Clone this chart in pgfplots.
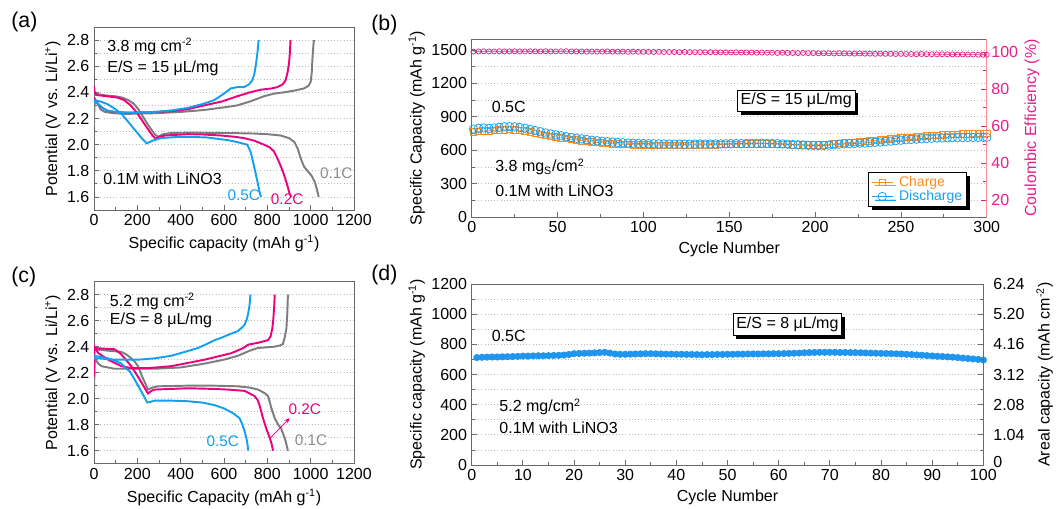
\documentclass[border=0pt]{standalone}
\usepackage{fontspec}
\setmainfont{Liberation Sans}
\usepackage{pgfplots}
\usepackage{pgfplotstable}
\pgfplotsset{compat=1.18}
\usetikzlibrary{shadows,arrows.meta}

\definecolor{cGray}{RGB}{125,125,125}
\definecolor{cGrayT}{RGB}{140,140,140}
\definecolor{cMag}{RGB}{236,0,127}
\definecolor{cBlue}{RGB}{20,160,240}
\definecolor{cBlueD}{RGB}{30,150,240}
\definecolor{cOrange}{RGB}{255,140,30}
\definecolor{cPink}{RGB}{228,30,140}
\definecolor{cPinkL}{RGB}{255,140,150}
\definecolor{cFrame}{RGB}{105,105,105}
\definecolor{cGrid}{RGB}{185,185,185}

\pgfplotstableread{
cyc dis chg ce
1 790 765 100.2
4 797 770 100.3
7 800 774 100.4
10 796 775 100.3
13 800 778 100.3
16 806 782 100.4
19 811 785 100.3
22 812 786 100.3
25 810 784 100.4
28 804 779 100.3
31 798 773 100.3
34 788 764 100.4
37 777 754 100.3
40 766 744 100.3
43 755 735 100.4
46 746 727 100.3
49 738 720 100.3
52 730 712 100.4
55 722 705 100.4
58 715 698 100.3
61 708 692 100.3
64 702 686 100.3
67 696 680 100.2
70 690 675 100.3
73 685 670 100.2
76 681 666 100.2
79 677 662 100.3
82 673 659 100.2
85 670 656 100.2
88 667 654 100.2
91 665 652 100.1
94 663 650 100.2
97 661 649 100.1
100 660 648 100.1
103 659 647 100.1
106 658 646 100.0
109 657 646 100.1
112 656 645 100.0
115 656 645 100.0
118 655 645 100.0
121 655 645 99.9
124 654 646 100.0
127 655 646 99.9
130 655 647 99.9
133 656 648 99.9
136 655 648 99.8
139 656 649 99.9
142 657 650 99.8
145 657 651 99.8
148 658 652 99.8
151 659 653 99.7
154 660 654 99.8
157 660 655 99.7
160 661 656 99.7
163 662 657 99.7
166 662 658 99.6
169 663 658 99.7
172 661 657 99.6
175 660 656 99.6
178 659 655 99.5
181 657 654 99.6
184 654 652 99.5
187 651 650 99.5
190 649 649 99.4
193 647 648 99.5
196 645 647 99.4
199 643 647 99.4
202 642 648 99.3
205 643 650 99.3
208 646 654 99.3
211 650 658 99.2
214 654 662 99.3
217 657 666 99.2
220 659 669 99.2
223 661 673 99.1
226 663 677 99.2
229 665 681 99.1
232 668 685 99.1
235 671 689 99.0
238 674 694 99.1
241 678 698 99.0
244 682 702 99.0
247 686 706 98.9
250 690 710 99.0
253 694 714 98.9
256 697 718 98.9
259 700 722 98.8
262 703 726 98.9
265 706 730 98.8
268 708 733 98.8
271 710 736 98.7
274 711 739 98.8
277 712 741 98.7
280 713 743 98.7
283 714 745 98.6
286 714 747 98.7
289 715 749 98.6
292 715 750 98.6
295 716 752 98.5
298 716 753 98.5
300 716 754 98.5
}\tabB

\pgfplotstableread{
cyc cap
1 712
2 714
3 715
4 716
5 716
6 717
7 718
8 719
9 720
10 722
11 722
12 723
13 724
14 724
15 725
16 726
17 727
18 729
19 733
20 738
21 740
22 741
23 742
24 743
25 745
26 747
27 742
28 736
29 734
30 734
31 735
32 736
33 737
34 738
35 738
36 737
37 736
38 735
39 735
40 734
41 734
42 733
43 733
44 732
45 731
46 732
47 732
48 733
49 733
50 734
51 734
52 735
53 735
54 736
55 736
56 736
57 737
58 737
59 738
60 738
61 739
62 740
63 741
64 742
65 744
66 745
67 746
68 747
69 747
70 747
71 747
72 746
73 746
74 745
75 745
76 744
77 743
78 742
79 741
80 740
81 739
82 738
83 737
84 736
85 734
86 732
87 730
88 728
89 725
90 723
91 721
92 719
93 717
94 715
95 712
96 709
97 706
98 703
99 700
100 696
}\tabD

\pgfplotsset{
  base/.style={
    scale only axis, anchor=south west,
    axis line style={cFrame, line width=0.7pt},
    tick style={cFrame, line width=0.6pt},
    major tick length=4pt, minor tick length=2.5pt,
    tick align=inside, xtick pos=bottom, ytick pos=left,
    /pgf/number format/assume math mode=true,
    /pgf/number format/1000 sep={},
    tick label style={font=\fontsize{12}{13}\selectfont, text=black},
    label style={font=\fontsize{12}{14}\selectfont},
    major grid style={cGrid, dotted, line width=0.6pt},
    minor grid style={cGrid, dotted, line width=0.6pt},
  },
  volt/.style={
    base, width=195pt, xmin=0, xmax=1200, ymin=1.5, ymax=2.9,
    xtick={0,200,400,600,800,1000,1200}, minor x tick num=1,
    ytick={1.6,1.8,2.0,2.2,2.4,2.6,2.8}, minor y tick num=1,
    ymajorgrids, yminorgrids,
    yticklabel style={/pgf/number format/.cd, fixed, fixed zerofill, precision=1},
    ylabel={Potential (V vs. Li/Li\textsuperscript{+})},
    ylabel style={yshift=-2pt},
  },
  cv/.style={line width=1.45pt, no marks, #1},
}

\begin{document}
\begin{tikzpicture}
\useasboundingbox (0,0) rectangle (792pt,381.75pt);

% ---------------- (a)
\begin{axis}[volt, at={(70.5pt,224.25pt)}, height=137.25pt,
  xlabel={Specific capacity (mAh g\textsuperscript{-1})}]
\addplot[cv=cGray] coordinates {(0,2.40) (20,2.385) (60,2.375) (100,2.37) (130,2.36) (160,2.34) (185,2.31) (205,2.27) (220,2.23) (250,2.15) (280,2.08) (295,2.06) (320,2.08) (360,2.09) (450,2.092) (550,2.09) (650,2.088) (738,2.085) (800,2.08) (861,2.07) (900,2.05) (925,2.02) (940,1.97) (955,1.89) (970,1.83) (990,1.79) (1005,1.76) (1020,1.71) (1030,1.65) (1037,1.60)};
\addplot[cv=cGray] coordinates {(0,2.15) (2,2.30) (6,2.34) (15,2.32) (30,2.27) (50,2.25) (92,2.24) (150,2.235) (277,2.24) (400,2.25) (508,2.265) (600,2.285) (661,2.30) (720,2.33) (784,2.37) (830,2.39) (877,2.40) (930,2.415) (969,2.43) (990,2.45) (1000,2.48) (1005,2.55) (1008,2.65) (1012,2.75) (1015,2.80)};
\addplot[cv=cMag] coordinates {(0,2.45) (3,2.40) (10,2.38) (60,2.37) (108,2.36) (140,2.34) (169,2.30) (190,2.26) (200,2.24) (240,2.14) (270,2.07) (285,2.045) (300,2.06) (330,2.07) (430,2.08) (500,2.078) (584,2.07) (650,2.06) (692,2.05) (740,2.03) (784,2.00) (810,1.98) (830,1.95) (845,1.90) (861,1.84) (875,1.78) (892,1.69) (902,1.63) (910,1.60)};
\addplot[cv=cMag] coordinates {(0,2.36) (15,2.32) (31,2.29) (60,2.26) (92,2.25) (150,2.245) (200,2.245) (280,2.25) (354,2.255) (430,2.27) (508,2.30) (590,2.33) (661,2.37) (720,2.40) (769,2.42) (820,2.43) (846,2.44) (870,2.46) (884,2.49) (893,2.55) (900,2.62) (904,2.70) (907,2.80)};
\addplot[cv=cBlue] coordinates {(0,2.34) (30,2.33) (62,2.31) (100,2.27) (130,2.23) (160,2.17) (190,2.11) (220,2.05) (243,2.01) (270,2.03) (308,2.05) (380,2.058) (430,2.06) (520,2.055) (615,2.035) (660,2.02) (707,2.00) (723,1.945) (738,1.84) (754,1.72) (765,1.63) (771,1.60)};
\addplot[cv=cBlue] coordinates {(0,2.33) (20,2.31) (40,2.28) (62,2.26) (123,2.245) (200,2.245) (277,2.25) (350,2.26) (430,2.28) (500,2.31) (554,2.34) (600,2.39) (631,2.43) (661,2.44) (692,2.44) (715,2.46) (730,2.49) (740,2.54) (748,2.62) (754,2.70) (760,2.80)};
\node[anchor=west, font=\fontsize{12}{14}\selectfont] at (axis cs:40,2.75) {3.8 mg cm\textsuperscript{-2}};
\node[anchor=west, font=\fontsize{12}{14}\selectfont] at (axis cs:40,2.58) {E/S = 15 μL/mg};
\node[anchor=west, font=\fontsize{12}{14}\selectfont] at (axis cs:22,1.74) {0.1M with LiNO3};
\node[anchor=west, font=\fontsize{11.5}{13}\selectfont, text=cBlue] at (axis cs:595,1.61) {0.5C};
\node[anchor=west, font=\fontsize{11.5}{13}\selectfont, text=cMag] at (axis cs:795,1.58) {0.2C};
\node[anchor=west, font=\fontsize{11.5}{13}\selectfont, text=cGrayT] at (axis cs:1022,1.78) {0.1C};
\end{axis}

% ---------------- (c)
\begin{axis}[volt, at={(70.5pt,34pt)}, height=136.5pt,
  xlabel={Specific Capacity (mAh g\textsuperscript{-1})}]
\addplot[cv=cGray] coordinates {(0,2.38) (60,2.37) (126,2.36) (150,2.34) (172,2.31) (190,2.28) (203,2.25) (225,2.16) (249,2.07) (270,2.085) (295,2.095) (434,2.10) (550,2.10) (664,2.095) (720,2.085) (757,2.07) (790,2.04) (803,2.02) (812,1.97) (818,1.93) (834,1.85) (850,1.80) (864,1.77) (875,1.72) (885,1.67) (895,1.60)};
\addplot[cv=cGray] coordinates {(0,2.05) (3,2.28) (8,2.30) (20,2.27) (34,2.25) (95,2.23) (280,2.23) (400,2.24) (511,2.27) (600,2.30) (664,2.33) (720,2.37) (757,2.39) (834,2.40) (860,2.41) (872,2.42) (880,2.47) (888,2.54) (892,2.65) (895,2.80)};
\addplot[cv=cMag] coordinates {(0,2.39) (40,2.385) (95,2.38) (120,2.35) (142,2.31) (172,2.25) (210,2.15) (249,2.04) (265,2.06) (280,2.07) (434,2.08) (550,2.075) (618,2.07) (695,2.06) (741,2.02) (755,1.99) (764,1.95) (772,1.90) (780,1.85) (795,1.77) (811,1.70) (820,1.65) (826,1.60)};
\addplot[cv=cMag] coordinates {(0,2.17) (2,2.40) (20,2.35) (65,2.30) (126,2.25) (172,2.235) (250,2.235) (357,2.25) (511,2.30) (634,2.35) (690,2.39) (711,2.415) (757,2.43) (803,2.45) (815,2.48) (823,2.54) (828,2.62) (832,2.72) (834,2.80)};
\addplot[cv=cBlue] coordinates {(0,2.33) (30,2.32) (65,2.31) (100,2.29) (126,2.27) (150,2.23) (165,2.21) (190,2.14) (220,2.05) (246,1.97) (260,1.975) (280,1.985) (350,1.985) (434,1.98) (500,1.97) (557,1.95) (600,1.925) (640,1.89) (672,1.85) (685,1.80) (695,1.75) (703,1.70) (708,1.65) (712,1.60)};
\addplot[cv=cBlue] coordinates {(0,2.31) (20,2.31) (95,2.30) (203,2.30) (280,2.31) (357,2.33) (420,2.36) (480,2.39) (520,2.42) (557,2.45) (590,2.47) (618,2.49) (664,2.52) (685,2.55) (695,2.57) (705,2.61) (711,2.65) (718,2.72) (722,2.80)};
\draw[cMag, line width=0.6pt, -{Stealth[length=4pt,width=3.5pt]}] (axis cs:815,1.70) -- (axis cs:903,1.85);
\node[anchor=west, font=\fontsize{12}{14}\selectfont] at (axis cs:52,2.75) {5.2 mg cm\textsuperscript{-2}};
\node[anchor=west, font=\fontsize{12}{14}\selectfont] at (axis cs:52,2.60) {E/S = 8 μL/mg};
\node[anchor=west, font=\fontsize{11.5}{13}\selectfont, text=cBlue] at (axis cs:498,1.67) {0.5C};
\node[anchor=west, font=\fontsize{11.5}{13}\selectfont, text=cMag] at (axis cs:876,1.92) {0.2C};
\node[anchor=west, font=\fontsize{11.5}{13}\selectfont, text=cGrayT] at (axis cs:905,1.68) {0.1C};
\end{axis}

% ---------------- (b) left
\begin{axis}[base, at={(353.8pt,219pt)}, width=386.25pt, height=133.5pt,
  xmin=0, xmax=300, ymin=0, ymax=1600,
  xtick={0,50,...,300}, minor x tick num=1,
  ytick={0,300,...,1500}, minor y tick num=1,
  ymajorgrids, yminorgrids,
  xlabel={Cycle Number},
  ylabel={Specific Capacity (mAh g\textsuperscript{-1})},
  ylabel style={yshift=-2pt},
  legend cell align=left,
  legend image code/.code={\draw[#1] (0cm,0cm) -- (0.55cm,0cm); \draw[#1, only marks] plot coordinates {(0.275cm,0cm)};},
  legend style={at={(0.962,0.056)}, anchor=south east, draw=black, line width=0.6pt,
    fill=white, font=\fontsize{10.5}{12}\selectfont, inner xsep=2pt, inner ysep=1.5pt, row sep=-1.5pt,
    column sep=3pt,
    nodes={inner xsep=1.5pt, inner ysep=1.5pt},
    general shadow={fill=black, shadow xshift=2.5pt, shadow yshift=-2.5pt}},
]
\addplot[cOrange, line width=0.5pt, mark=square, mark size=2.4pt, mark options={line width=0.5pt}] table[x=cyc, y=chg] {\tabB};
\addlegendentry{\textcolor{cOrange}{Charge}}
\addplot[cBlue, line width=0.5pt, mark=o, mark size=3.2pt, mark options={line width=0.55pt}] table[x=cyc, y=dis] {\tabB};
\addlegendentry{\textcolor{cBlue}{Discharge}}
\node[anchor=west, font=\fontsize{12}{14}\selectfont] at (axis cs:9,990) {0.5C};
\node[anchor=west, font=\fontsize{12}{14}\selectfont] at (axis cs:11,450) {3.8 mg\textsubscript{S}/cm\textsuperscript{2}};
\node[anchor=west, font=\fontsize{12}{14}\selectfont] at (axis cs:11,234) {0.1M with LiNO3};
\node[draw=black, line width=0.6pt, fill=white, inner sep=2.5pt, font=\fontsize{12}{14}\selectfont,
  general shadow={fill=black, shadow xshift=2.5pt, shadow yshift=-2.5pt}] at (axis cs:189,1044) {E/S = 15 μL/mg};
\end{axis}

% ---------------- (b) right
\begin{axis}[base, at={(353.8pt,219pt)}, width=386.25pt, height=133.5pt,
  xmin=0, xmax=300, ymin=11, ymax=107,
  axis x line=none, axis y line*=right, ytick pos=right,
  ytick={20,40,60,80,100}, minor y tick num=1,
  y axis line style={cPinkL, line width=0.8pt},
  ytick style={cPink},
  yticklabel style={text=cPink},
  ylabel={Coulombic Efficiency (\%)},
  ylabel style={text=cPink, yshift=2pt},
]
\addplot[cPink, line width=0.4pt, mark=o, mark size=1.9pt, mark options={line width=0.55pt}] table[x=cyc, y=ce] {\tabB};
\end{axis}

% ---------------- (d) left
\begin{axis}[base, at={(353.8pt,33pt)}, width=383.7pt, height=135.75pt,
  xmin=0, xmax=100, ymin=0, ymax=1200,
  xtick={0,10,...,100}, minor x tick num=1,
  ytick={0,200,...,1200}, minor y tick num=1,
  ymajorgrids, yminorgrids,
  xlabel={Cycle Number},
  ylabel={Specific capacity (mAh g\textsuperscript{-1})},
  ylabel style={yshift=-2pt},
]
\addplot[cBlueD, line width=0.5pt, mark=*, mark size=2.4pt, mark options={draw=cBlueD, fill=cBlueD}] table[x=cyc, y=cap] {\tabD};
\node[anchor=west, font=\fontsize{12}{14}\selectfont] at (axis cs:3,855) {0.5C};
\node[anchor=west, font=\fontsize{12}{14}\selectfont] at (axis cs:4.5,385) {5.2 mg/cm\textsuperscript{2}};
\node[anchor=west, font=\fontsize{12}{14}\selectfont] at (axis cs:4.5,245) {0.1M with LiNO3};
\node[draw=black, line width=0.6pt, fill=white, inner sep=2.5pt, font=\fontsize{12}{14}\selectfont,
  general shadow={fill=black, shadow xshift=2.5pt, shadow yshift=-2.5pt}] at (axis cs:61.7,931) {E/S = 8 μL/mg};
\end{axis}

% ---------------- (d) right
\begin{axis}[base, at={(353.8pt,33pt)}, width=383.7pt, height=135.75pt,
  xmin=0, xmax=100, ymin=0, ymax=6.24,
  axis x line=none, axis y line*=right, ytick pos=right,
  ytick={0,1.04,2.08,3.12,4.16,5.20,6.24},
  yticklabels={\raisebox{4pt}{0},1.04,2.08,3.12,4.16,5.20,6.24},
  yticklabel style={xshift=4pt},
  minor y tick num=1,
  ylabel={Areal capacity (mAh cm\textsuperscript{-2})},
  ylabel style={yshift=-2pt},
]
\addplot[draw=none, forget plot] coordinates {(0,0) (100,6.24)};
\end{axis}

% panel letters
\node[anchor=west, font=\fontsize{16}{18}\selectfont] at (5pt,365.25pt) {(a)};
\node[anchor=west, font=\fontsize{16}{18}\selectfont] at (275pt,363pt) {(b)};
\node[anchor=west, font=\fontsize{16}{18}\selectfont] at (5pt,174pt) {(c)};
\node[anchor=west, font=\fontsize{16}{18}\selectfont] at (275pt,175.5pt) {(d)};
\end{tikzpicture}
\end{document}
